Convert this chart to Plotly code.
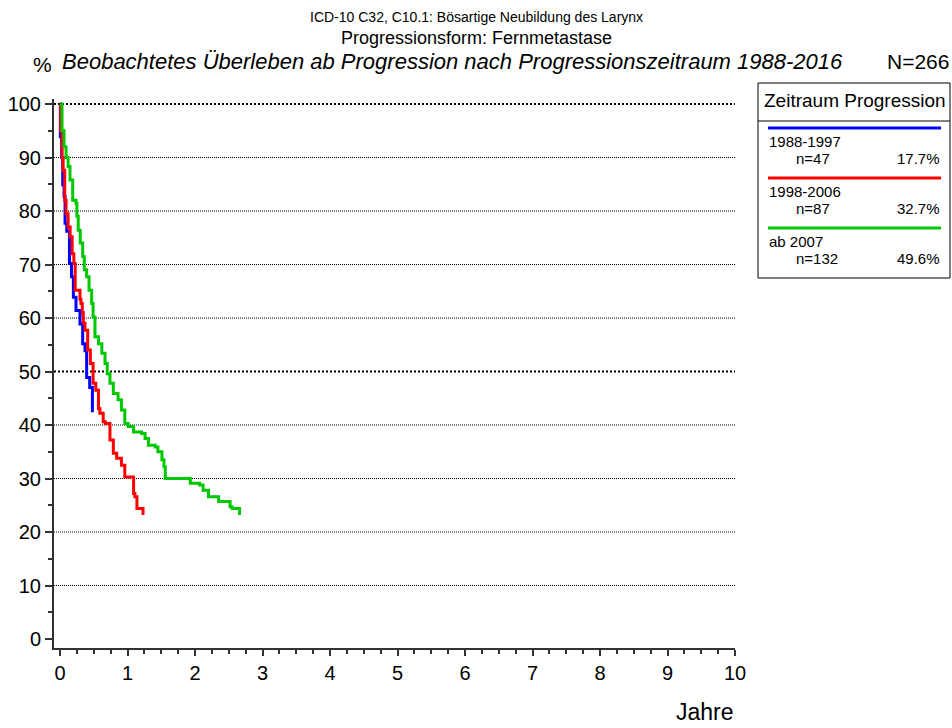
import plotly.graph_objects as go

# Kaplan-Meier style survival steps (years since progression, % survival)
t_1988 = [0, 0.005, 0.025, 0.04, 0.06, 0.075, 0.1, 0.14, 0.17, 0.198, 0.237, 0.296,
          0.336, 0.37, 0.395, 0.44, 0.48]
s_1988 = [100, 93.9, 90, 84.9, 82.7, 77.7, 76.2, 70.2, 67.7, 63.9, 61.4, 58.9,
          55.2, 53.9, 48.9, 47, 42.4]

t_1998 = [0, 0.01, 0.03, 0.045, 0.07, 0.09, 0.12, 0.15, 0.18, 0.205, 0.225, 0.296, 0.31,
          0.33, 0.345, 0.37, 0.41, 0.45, 0.49, 0.53, 0.57, 0.59, 0.64, 0.67, 0.74, 0.79,
          0.84, 0.91, 0.96, 1.09, 1.11, 1.14, 1.23]
s_1998 = [100, 95, 90, 87.6, 82, 79.5, 77, 75.2, 72, 70.2, 65.2, 63.5, 62.7,
          61, 59, 57.7, 54, 51.5, 47.8, 46.5, 43.1, 42.2, 40.6, 40.3, 37.2, 34.7,
          33.8, 32.5, 30.3, 27.2, 26.6, 24.4, 23.2]

t_2007 = [0, 0.03, 0.06, 0.09, 0.12, 0.148, 0.188, 0.237, 0.25, 0.27, 0.3, 0.336, 0.36,
          0.395, 0.43, 0.469, 0.49, 0.518, 0.57, 0.62, 0.667, 0.7, 0.74, 0.79, 0.86,
          0.91, 0.96, 1.01, 1.09, 1.21, 1.26, 1.31, 1.41, 1.45, 1.51, 1.54, 1.56, 1.93,
          2.07, 2.12, 2.2, 2.35, 2.52, 2.55, 2.66]
s_2007 = [100, 95, 92, 90, 88.3, 85.8, 82, 81.4, 79, 76.4, 74, 71.5, 69,
          67.7, 65.2, 62.7, 60.2, 56.5, 55.2, 53.4, 51.5, 49.6, 47.8, 45.9, 44.7,
          42.8, 40.3, 39.7, 38.7, 38.4, 37.5, 36.2, 35.9, 35, 33.5, 32.2, 30, 29.1,
          28.8, 27.8, 26.6, 25.7, 24.7, 24.4, 23.2]

periods = ["1988-1997", "1998-2006", "ab 2007"]
n_cases = [47, 87, 132]
shares = ["17.7%", "32.7%", "49.6%"]
colors = ["#0000ff", "#ff0000", "#00c800"]
series = [(t_1988, s_1988), (t_1998, s_1998), (t_2007, s_2007)]

grid_vals = [10, 20, 30, 40, 50, 60, 70, 80, 90, 100]
bold_grid = [50, 100]

FONT = "Arial, Liberation Sans, sans-serif"
W, H = 952, 728
L, R, T, B = 54, 217, 99, 80
PW, PH = W - L - R, H - T - B


def px(x):
    return (x - L) / PW


def py(y):
    return (H - B - y) / PH


fig = go.Figure()
for (t, s), c, p in zip(series, colors, periods):
    fig.add_trace(go.Scatter(x=t, y=s, mode="lines", line=dict(color=c, width=3, shape="hv"),
                             name=p, showlegend=False, hoverinfo="skip"))

# dotted grid lines
for g in grid_vals:
    bold = g in bold_grid
    fig.add_shape(type="line", xref="paper", yref="y", x0=0, x1=1, y0=g, y1=g,
                  line=dict(color="black", width=2 if bold else 1,
                            dash="2px,2px" if bold else "1px,1px"), layer="below")

axis_common = dict(showgrid=False, zeroline=False, showline=True, linecolor="#333",
                   linewidth=2, ticks="outside", tickwidth=2, tickcolor="#333",
                   tickfont=dict(size=20, family=FONT, color="black"), automargin=False)

fig.update_layout(
    width=W, height=H,
    margin=dict(l=L, r=R, t=T, b=B, pad=0, autoexpand=False),
    plot_bgcolor="white", paper_bgcolor="white",
    font=dict(family=FONT, color="black"),
    xaxis=dict(range=[-0.0889, 10], tickvals=list(range(11)), ticklen=6,
               minor=dict(dtick=0.25, tick0=0, ticks="outside", ticklen=4, tickwidth=2,
                          tickcolor="#333", showgrid=False), **axis_common),
    yaxis=dict(range=[-1.682, 100.935], tickvals=list(range(0, 101, 10)), ticklen=7,
               minor=dict(dtick=5, tick0=0, ticks="outside", ticklen=4, tickwidth=2,
                          tickcolor="#333", showgrid=False), **axis_common),
)

ann = []


def text(x, y, s, size, xanchor="center", italic=False):
    ann.append(dict(x=px(x), y=py(y), xref="paper", yref="paper", text=s, showarrow=False,
                    xanchor=xanchor, yanchor="middle",
                    font=dict(size=size, family=FONT, color="black",
                              style="italic" if italic else "normal")))


text(476, 17, "ICD-10 C32, C10.1: Bösartige Neubildung des Larynx", 14)
text(476, 38, "Progressionsform: Fernmetastase", 18)
text(452, 61, "Beobachtetes Überleben ab Progression nach Progressionszeitraum 1988-2016", 22, italic=True)
text(42, 64, "%", 21)
text(951, 61, "N=266", 21, xanchor="right")
text(736, 712, "Jahre", 23, xanchor="right")

# legend box
fig.add_shape(type="rect", xref="paper", yref="paper", x0=px(758), x1=px(950), y0=py(83), y1=py(278),
              line=dict(color="black", width=1), fillcolor="white")
fig.add_shape(type="line", xref="paper", yref="paper", x0=px(758), x1=px(950), y0=py(121), y1=py(121),
              line=dict(color="black", width=1))
text(855, 101, "Zeitraum Progression", 19)
for i, (p, n, sh, c) in enumerate(zip(periods, n_cases, shares, colors)):
    y0 = 128 + i * 50
    fig.add_shape(type="line", xref="paper", yref="paper", x0=px(768), x1=px(941), y0=py(y0), y1=py(y0),
                  line=dict(color=c, width=3))
    text(767, y0 + 13, p, 15, xanchor="left")
    text(794, y0 + 30, f"n={n}", 15, xanchor="left")
    text(942, y0 + 30, sh, 15, xanchor="right")

fig.update_layout(annotations=ann)
fig.write_html("out.html", config={"displayModeBar": False},
               post_script="document.body.style.margin='0';")
